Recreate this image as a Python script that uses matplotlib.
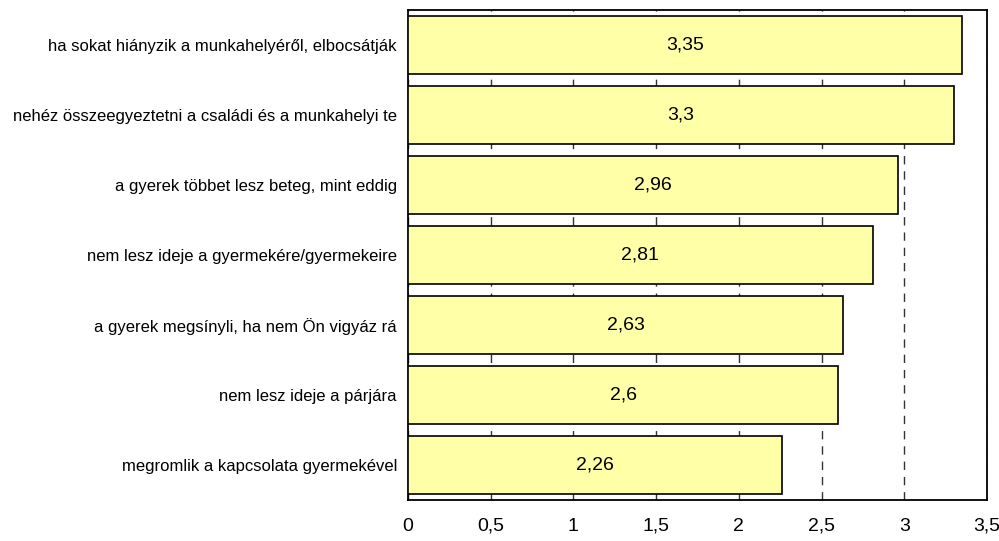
import matplotlib
matplotlib.use("Agg")
import matplotlib.pyplot as plt
from matplotlib.ticker import FuncFormatter

categories = [
    "ha sokat hiányzik a munkahelyéről, elbocsátják",
    "nehéz összeegyeztetni a családi és a munkahelyi te",
    "a gyerek többet lesz beteg, mint eddig",
    "nem lesz ideje a gyermekére/gyermekeire",
    "a gyerek megsínyli, ha nem Ön vigyáz rá",
    "nem lesz ideje a párjára",
    "megromlik a kapcsolata gyermekével",
]
values = [3.35, 3.3, 2.96, 2.81, 2.63, 2.6, 2.26]
value_labels = ["3,35", "3,3", "2,96", "2,81", "2,63", "2,6", "2,26"]
xticks = [0, 0.5, 1, 1.5, 2, 2.5, 3, 3.5]

plt.rcParams['font.family'] = ['Liberation Sans', 'DejaVu Sans']

fig = plt.figure(figsize=(9.99, 5.41), dpi=100)
ax = fig.add_axes([408 / 999, 1 - 500 / 541, (987 - 408) / 999, 490 / 541])

ypos = list(range(len(categories)))
ax.barh(ypos, values, height=0.84, color='#FFFFA8', edgecolor='black',
        linewidth=1.2, zorder=3)
for y, v, lab in zip(ypos, values, value_labels):
    ax.text(v / 2, y, lab, ha='center', va='center', fontsize=14, zorder=4)

ax.set_ylim(len(categories) - 0.5, -0.5)
ax.set_yticks(ypos)
ax.set_yticklabels(categories, fontsize=12)
ax.set_xlim(0, 3.5)
ax.set_xticks(xticks)
ax.xaxis.set_major_formatter(FuncFormatter(lambda v, p: ('%g' % v).replace('.', ',')))
ax.tick_params(axis='x', labelsize=14, length=0, pad=22)
for lab in ax.get_xticklabels():
    lab.set_verticalalignment('baseline')
ax.tick_params(axis='y', length=0, pad=8)
ax.grid(axis='x', color='#333333', linestyle=(0, (6, 5)), linewidth=1, zorder=1)
for s in ax.spines.values():
    s.set_linewidth(1.3)

fig.savefig("out.png", dpi=100)
